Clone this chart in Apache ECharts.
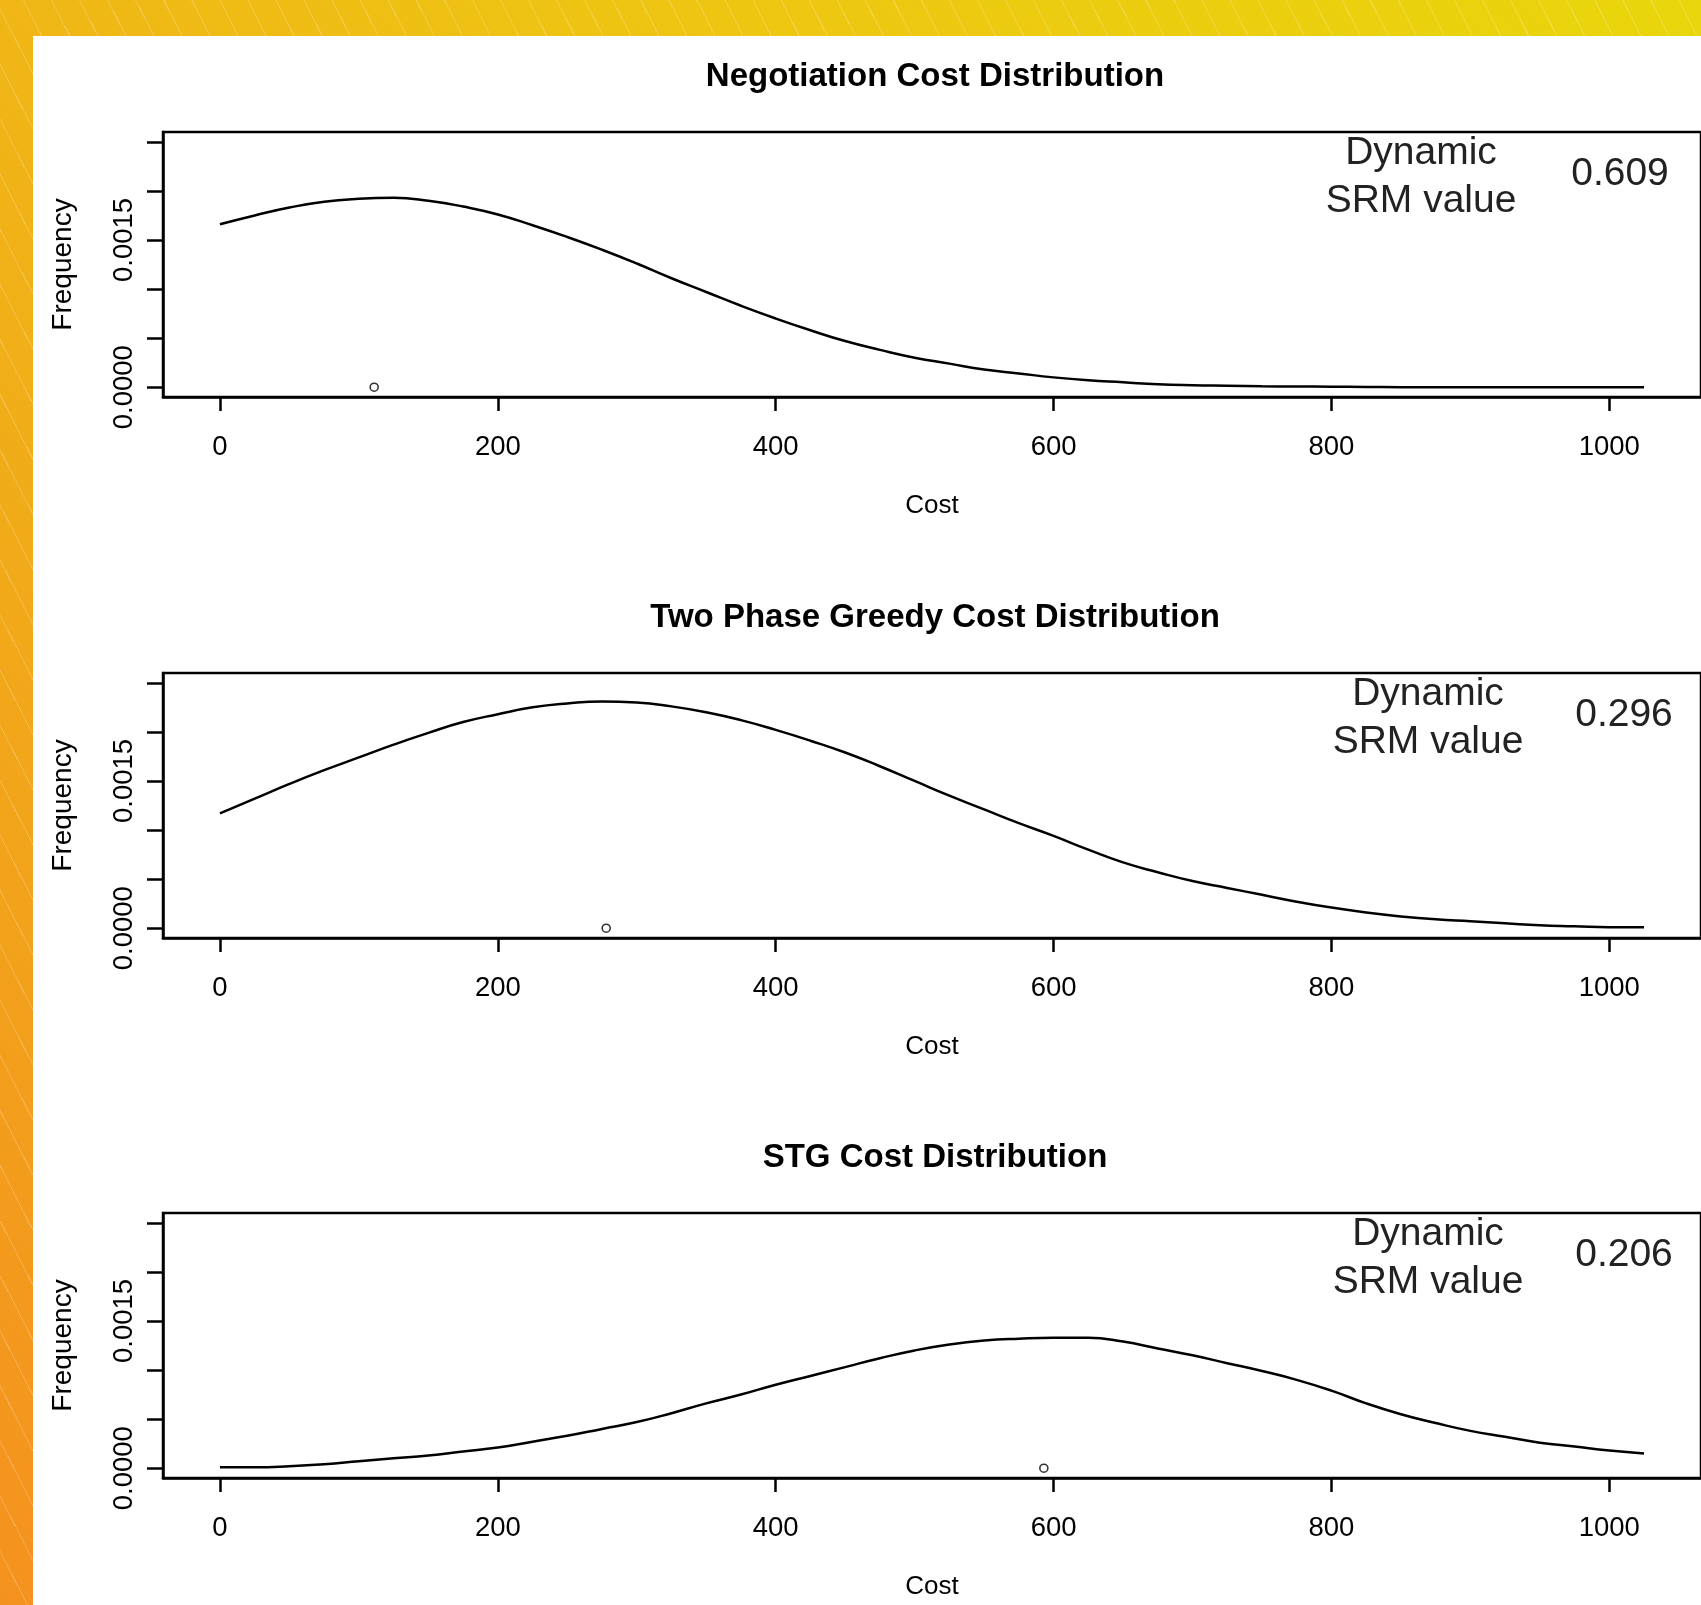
<!DOCTYPE html>
<html>
<head>
<meta charset="utf-8">
<script src="https://cdn.jsdelivr.net/npm/echarts@6/dist/echarts.min.js"></script>
<style>
  html, body { margin: 0; padding: 0; width: 1701px; height: 1605px; overflow: hidden; }
  body {
    background:
      repeating-linear-gradient(63deg, rgba(255,255,255,0) 0px, rgba(255,255,255,0) 24px, rgba(255,255,255,0.22) 24px, rgba(255,255,255,0.22) 25px),
      linear-gradient(225deg, #e9d60c 0%, #eec313 35%, #f4921f 100%);
  }
  #paper { position: absolute; left: 33px; top: 36px; right: 0; bottom: 0; background: #fff; }
  #chart { position: absolute; left: 0; top: 0; width: 1701px; height: 1605px; }
</style>
</head>
<body>
<div id="paper"></div>
<div id="chart"></div>
<script>
// cost grid the densities were read at
var costs = [0, 25, 50, 75, 100, 125, 150, 175, 200, 225, 250, 275, 300, 325, 350, 375, 400, 425, 450, 475, 500,
  525, 550, 575, 600, 625, 650, 675, 700, 725, 750, 775, 800, 825, 850, 875, 900, 925, 950, 975, 1000, 1025]
var negotiation = [0.00166, 0.00175, 0.00183, 0.00189, 0.00192, 0.00193, 0.00190, 0.00184, 0.00176, 0.00165, 0.00153,
  0.00140, 0.00126, 0.00111, 0.00097, 0.00083, 0.00070, 0.00058, 0.00047, 0.00038, 0.00030,
  0.00024, 0.00018, 0.00014, 0.00010, 0.00007, 0.00005, 0.00003, 0.00002, 0.000015, 0.00001,
  0.000007, 0.000005, 0.000003, 0, 0, 0, 0, 0, 0, 0, 0]
var twoPhase = [0.00117, 0.00132, 0.00147, 0.00161, 0.00174, 0.00187, 0.00199, 0.00210, 0.00218, 0.00225, 0.00229,
  0.00231, 0.00230, 0.00226, 0.00220, 0.00212, 0.00202, 0.00191, 0.00179, 0.00165, 0.00150,
  0.00135, 0.00121, 0.00107, 0.00094, 0.00080, 0.00067, 0.00057, 0.00048, 0.00041, 0.00034,
  0.00027, 0.00021, 0.00016, 0.00012, 0.00009, 0.00007, 0.00005, 0.00003, 0.00002, 0.00001, 0.00001]
var stg = [0.00001, 0.00001, 0.00002, 0.00004, 0.00007, 0.00010, 0.00013, 0.00017, 0.00021, 0.00027, 0.00033,
  0.00040, 0.00047, 0.00056, 0.00066, 0.00075, 0.00085, 0.00094, 0.00103, 0.00112, 0.00120,
  0.00126, 0.00130, 0.00132, 0.00133, 0.00133, 0.00129, 0.00122, 0.00115, 0.00107, 0.00099,
  0.00090, 0.00079, 0.00066, 0.00055, 0.00046, 0.00038, 0.00032, 0.00026, 0.00022, 0.00018, 0.00015]
var means = [111, 278, 593]
var titles = ['Negotiation Cost Distribution', 'Two Phase Greedy Cost Distribution', 'STG Cost Distribution']
var srmValues = ['0.609', '0.296', '0.206']
var xTicks = [0, 200, 400, 600, 800, 1000]
var yTicks = [0, 0.0005, 0.0010, 0.0015, 0.0020, 0.0025]
var yTickLabels = [0, 0.0015]

var curves = [negotiation, twoPhase, stg]
var font = '"Liberation Sans", Arial, sans-serif'
var gridTops = [132, 673, 1213]
var gridH = 265
var gridLeft = 163
var gridW = 1545

var chart = echarts.init(document.getElementById('chart'))

var grids = [], xAxes = [], yAxes = [], series = [], titleList = [], graphics = []

gridTops.forEach(function (top, i) {
  grids.push({
    left: gridLeft, top: top, width: gridW, height: gridH,
    show: true, borderColor: '#000', borderWidth: 2.5, backgroundColor: 'transparent'
  })
  xAxes.push({
    gridIndex: i, type: 'value', min: -41, max: 1066,
    name: 'Cost', nameLocation: 'middle', nameGap: 96,
    nameTextStyle: { color: '#000', fontSize: 26, fontFamily: font },
    axisLine: { show: true, onZero: false, lineStyle: { color: '#000', width: 2.5 } },
    axisTick: { show: true, length: 14, customValues: xTicks, lineStyle: { color: '#000', width: 2.5 } },
    axisLabel: {
      customValues: xTicks, margin: 36, color: '#000', fontSize: 27.5, fontFamily: font,
      formatter: function (v) { return String(v) }
    },
    splitLine: { show: false }
  })
  yAxes.push({
    gridIndex: i, type: 'value', min: -0.0001, max: 0.0026,
    name: 'Frequency', nameLocation: 'middle', nameGap: 86, nameRotate: 90,
    nameTextStyle: { color: '#000', fontSize: 28, fontFamily: font },
    axisLine: { show: true, onZero: false, lineStyle: { color: '#000', width: 2.5 } },
    axisTick: { show: true, length: 16, customValues: yTicks, lineStyle: { color: '#000', width: 2.5 } },
    axisLabel: {
      customValues: yTickLabels, rotate: 90, margin: 25, color: '#000', fontSize: 27.5, fontFamily: font,
      formatter: function (v) { return v.toFixed(4) }
    },
    splitLine: { show: false }
  })
  series.push({
    type: 'line', xAxisIndex: i, yAxisIndex: i,
    data: costs.map(function (c, k) { return [c, curves[i][k]] }),
    smooth: 0.5, symbol: 'none',
    lineStyle: { color: '#000', width: 2.5 }
  })
  series.push({
    type: 'scatter', xAxisIndex: i, yAxisIndex: i,
    data: [[means[i], 0]],
    symbol: 'circle', symbolSize: 8,
    itemStyle: { color: '#fff', borderColor: '#000', borderWidth: 1.6 }
  })
  titleList.push({
    text: titles[i], left: 930, top: top - 77, textAlign: 'center',
    textStyle: { color: '#000', fontSize: 33, fontWeight: 'bold', fontFamily: font }
  })
  var dx = i === 0 ? 1421 : 1428
  var vx = i === 0 ? 1620 : 1624
  graphics.push(
    { type: 'text', style: { text: 'Dynamic', x: dx, y: top + 21, align: 'center', verticalAlign: 'middle', font: '39px ' + font, fill: '#222' } },
    { type: 'text', style: { text: 'SRM value', x: dx, y: top + 69, align: 'center', verticalAlign: 'middle', font: '39px ' + font, fill: '#222' } },
    { type: 'text', style: { text: srmValues[i], x: vx, y: top + 42, align: 'center', verticalAlign: 'middle', font: '39px ' + font, fill: '#222' } }
  )
})

chart.setOption({
  animation: false,
  backgroundColor: 'transparent',
  title: titleList,
  grid: grids,
  xAxis: xAxes,
  yAxis: yAxes,
  series: series,
  graphic: graphics
})
</script>
</body>
</html>
